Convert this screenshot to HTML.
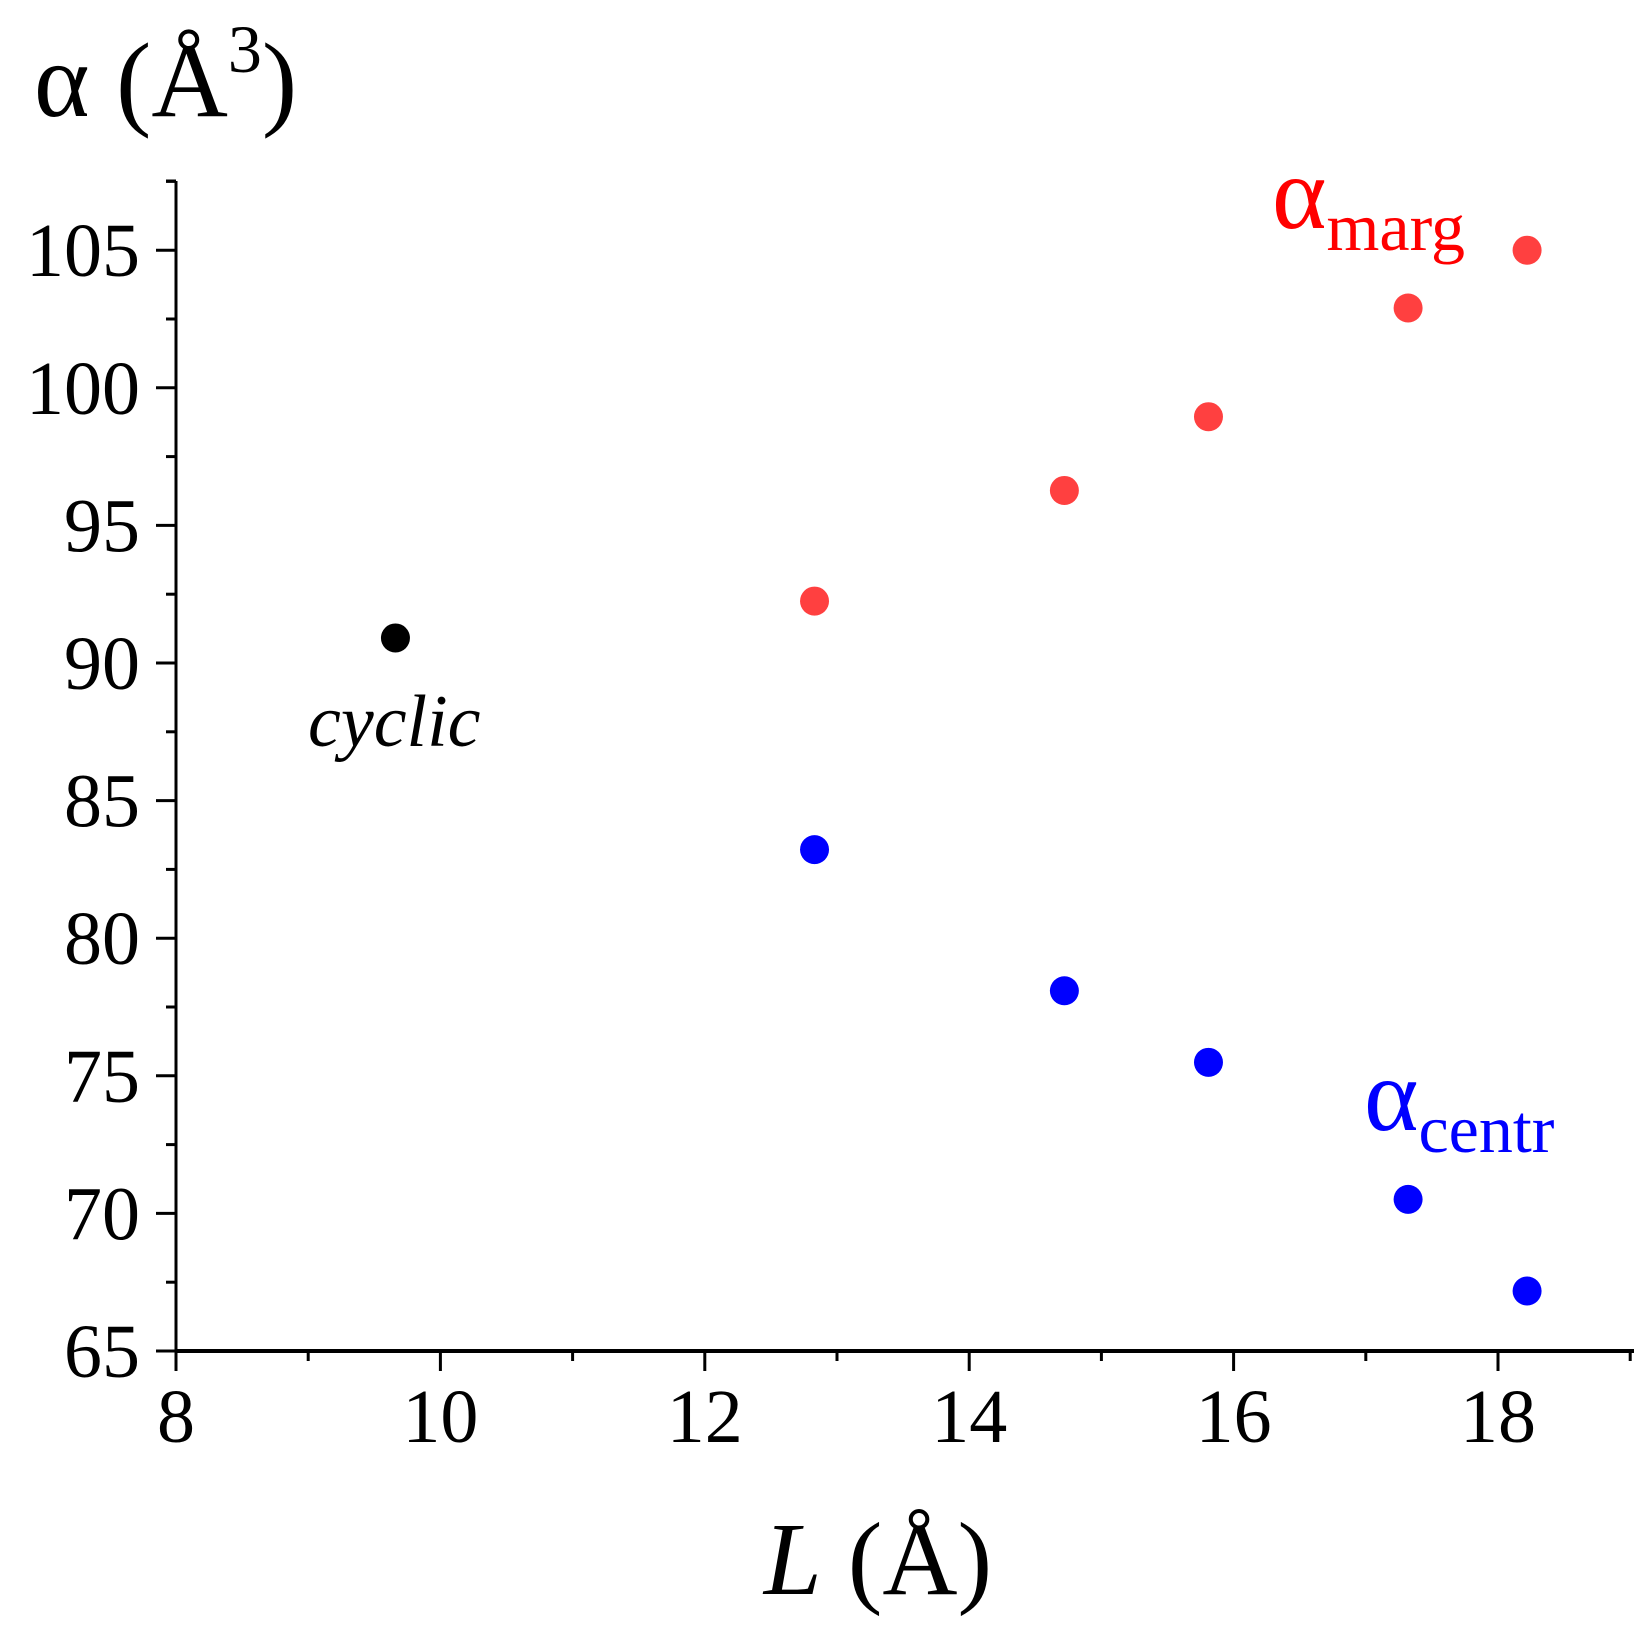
<!DOCTYPE html>
<html><head><meta charset="utf-8"><style>
html,body{margin:0;padding:0;background:#fff;}
svg{display:block;font-family:"Liberation Serif",serif;}
</style></head><body>
<svg id="chart" width="1645" height="1626" viewBox="0 0 1645 1626" xmlns="http://www.w3.org/2000/svg">
<g id="axes"></g>
<g id="marks"></g>
<text x="34" y="116" font-size="106">α (Å<tspan font-size="68" dy="-44">3</tspan><tspan dy="44">)</tspan></text>
<text x="878" y="1594" font-size="104" text-anchor="middle"><tspan font-style="italic">L</tspan> (Å)</text>
<text x="1272" y="228" font-size="104" fill="#ff0000">α<tspan font-size="68" dy="22">marg</tspan></text>
<text x="1364" y="1130" font-size="104" fill="#0000ff">α<tspan font-size="68" dy="22">centr</tspan></text>
<text x="308" y="746" font-size="74" font-style="italic">cyclic</text>
</svg>
<script>
const xTicks=[8,10,12,14,16,18];
const yTicks=[65,70,75,80,85,90,95,100,105];
const margL=[12.83,14.72,15.81,17.32,18.22];
const margA=[92.25,96.27,98.95,102.9,105.0];
const centrL=[12.83,14.72,15.81,17.32,18.22];
const centrA=[83.22,78.09,75.49,70.51,67.18];
const cyclicL=[9.66];
const cyclicA=[90.91];
const X=v=>176+(v-8)*132.2;
const Y=v=>1351-(v-65)*27.52;
const NS='http://www.w3.org/2000/svg';
const axes=document.getElementById('axes');
const marks=document.getElementById('marks');
function el(tag,attrs,parent){const e=document.createElementNS(NS,tag);for(const k in attrs)e.setAttribute(k,attrs[k]);parent.appendChild(e);return e;}
let a=el('line',{x1:176,y1:181,x2:176,y2:1352,stroke:'#000','stroke-width':3},axes);


a=el('line',{x1:175,y1:1351,x2:1634,y2:1351,stroke:'#000','stroke-width':4},axes);


el('line',{x1:166,y1:181,x2:176,y2:181,stroke:'#000','stroke-width':3},axes);
for(let v=8;v<=19;v++){
  const major=v%2===0;
  const t=el('line',{x1:X(v),y1:1351,x2:X(v),y2:1351+(major?20:10),stroke:'#000','stroke-width':3},axes);
  
  
}
for(let v=65;v<=107.5;v+=2.5){
  const major=v%5===0;
  const t=el('line',{x1:176-(major?20:10),y1:Y(v),x2:176,y2:Y(v),stroke:'#000','stroke-width':3},axes);
  
  
}
xTicks.forEach(v=>{const t=el('text',{x:X(v),y:1442,'font-size':76,'text-anchor':'middle'},axes);t.textContent=v;

});
yTicks.forEach(v=>{const t=el('text',{x:140,y:Y(v)+26,'font-size':76,'text-anchor':'end'},axes);t.textContent=v;

});
function pts(Ls,As,color,name){Ls.forEach((l,i)=>{const c=el('circle',{cx:X(l),cy:Y(As[i]),r:14.5,fill:color},marks);

});}
pts(margL,margA,'#ff4040','marg-point');
pts(centrL,centrA,'#0000ff','centr-point');
pts(cyclicL,cyclicA,'#000000','cyclic-point');
</script>
</body></html>
